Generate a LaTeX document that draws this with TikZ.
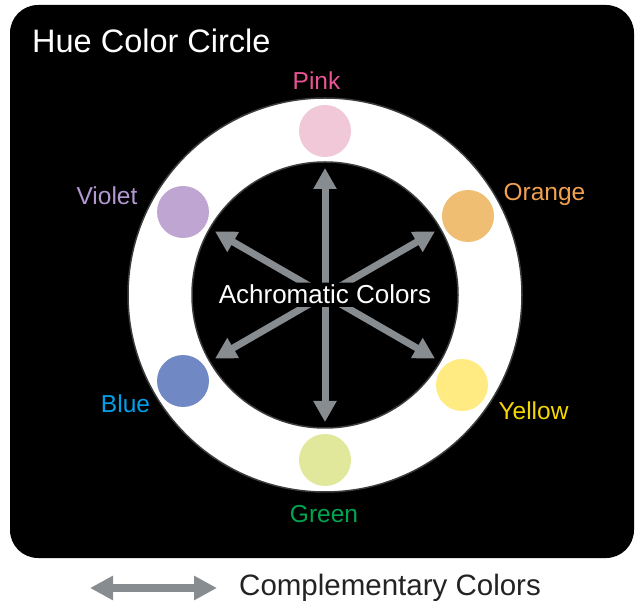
\documentclass[tikz,border=0pt]{standalone}
\usepackage{fontspec}
\setmainfont{Liberation Sans}
\usetikzlibrary{arrows.meta,calc}
\definecolor{arrowgray}{RGB}{135,140,145}
\definecolor{ringedge}{RGB}{60,60,60}
\definecolor{legendtxt}{RGB}{35,35,35}
\definecolor{pinkdot}{RGB}{240,200,215}
\definecolor{violetdot}{RGB}{190,165,210}
\definecolor{orangedot}{RGB}{240,190,115}
\definecolor{yellowdot}{RGB}{255,235,130}
\definecolor{greendot}{RGB}{225,232,155}
\definecolor{bluedot}{RGB}{112,136,196}
\definecolor{pinktxt}{RGB}{233,84,148}
\definecolor{violettxt}{RGB}{180,152,210}
\definecolor{orangetxt}{RGB}{240,160,80}
\definecolor{yellowtxt}{RGB}{245,215,0}
\definecolor{greentxt}{RGB}{0,165,80}
\definecolor{bluetxt}{RGB}{0,160,233}

\begin{document}
\begin{tikzpicture}[x=1pt, y=-1pt,
    dot/.style={circle, minimum size=52pt, inner sep=0pt},
    lbl/.style={anchor=base, inner sep=0pt, font=\fontsize{24.5}{28}\selectfont},
    biarrow/.style={{Triangle[length=21pt,width=22pt]}-{Triangle[length=21pt,width=22pt]},
                    line width=7pt, arrowgray}]

\useasboundingbox (0,0) rectangle (635,601);

% panel and ring
\fill[black, rounded corners=28pt] (10,5) rectangle (634,558);
\coordinate (c) at (325,295);
\draw[fill=white, draw=ringedge, line width=1.5pt] (c) circle (197pt);
\draw[fill=black, draw=ringedge, line width=1.5pt] (c) circle (133pt);

\node[anchor=base west, inner sep=0pt, text=white, font=\fontsize{32.5}{38}\selectfont] (title) at (32,53) {Hue Color Circle};

% hue dots
\node[dot, fill=pinkdot] (pink) at (325,131) {};
\node[dot, fill=orangedot] (orange) at (468,216) {};
\node[dot, fill=yellowdot] (yellow) at (462,385) {};
\node[dot, fill=greendot] (green) at (325,460) {};
\node[dot, fill=bluedot] (blue) at (183,381) {};
\node[dot, fill=violetdot] (violet) at (183,212) {};

\node[lbl, text=pinktxt] (pinklbl) at (316.5,90) {Pink};
\node[lbl, text=orangetxt] (orangelbl) at (544.5,201) {Orange};
\node[lbl, text=yellowtxt] (yellowlbl) at (533.5,420) {Yellow};
\node[lbl, text=greentxt] (greenlbl) at (324,523) {Green};
\node[lbl, text=bluetxt] (bluelbl) at (125.5,413) {Blue};
\node[lbl, text=violettxt] (violetlbl) at (107,205) {Violet};

% complementary arrows
\foreach \a in {90,30,150}{
  \coordinate (p\a) at ($(c)+(\a:127pt)$);
  \coordinate (q\a) at ($(c)+(\a+180:127pt)$);
  \draw[biarrow] (p\a) -- (q\a);
}

\node[anchor=base, inner xsep=2pt, inner ysep=2.5pt, rounded corners=6pt, fill=black, text=white,
      font=\fontsize{26}{30}\selectfont] (ach) at (325,304) {Achromatic Colors};

% legend
\coordinate (lgl) at (90,588);
\coordinate (lgr) at (217,588);
\draw[{Triangle[length=23pt,width=23pt]}-{Triangle[length=23pt,width=23pt]}, line width=8pt, arrowgray] (lgl) -- (lgr);
\node[anchor=base west, inner sep=0pt, text=legendtxt, font=\fontsize{29.5}{34}\selectfont] (legend) at (239,595) {Complementary Colors};
\end{tikzpicture}
\end{document}
